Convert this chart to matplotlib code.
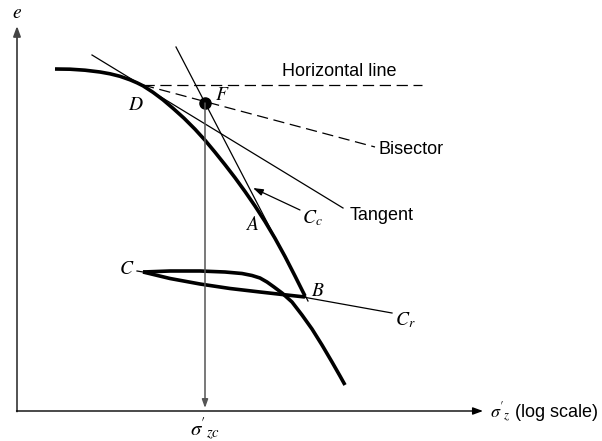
import matplotlib
matplotlib.use('Agg')
import matplotlib.pyplot as plt

plt.rcParams['font.family'] = ['Liberation Sans', 'DejaVu Sans']
plt.rcParams['mathtext.fontset'] = 'stix'

# 图上的点 (像素坐标, y 向下)
virgin_x = [55, 70, 85, 100, 110, 120, 130, 137, 143, 153, 163, 173, 184, 195, 205,
            215, 225, 235, 245, 255, 265, 275, 285, 295, 303, 305]
virgin_y = [69, 69.2, 70.2, 72, 73.8, 76.3, 79.8, 82.8, 85.8, 92.3, 99.8, 108.3, 118.2, 129.2, 140.2,
            152.2, 164.7, 177.7, 191.5, 206, 221.5, 238.3, 256.5, 276, 292, 296]
# 再加载曲线
reload_x = [143, 170, 200, 225, 242, 252, 260, 267, 274, 282, 292, 302, 312, 322, 332, 340, 345]
reload_y = [272, 271, 271, 272, 273.5, 275.5, 278, 282, 287, 293, 302, 315, 329, 345, 362, 376, 385]
# 卸载曲线
unload_x = [143, 170, 200, 230, 260, 285, 305]
unload_y = [272, 278.5, 284, 288.5, 292, 294.8, 297]

tangent_x, tangent_y = [92, 343], [55, 208]
horiz_x, horiz_y = [143, 422], [85, 85]
bisector_x, bisector_y = [143, 375], [85, 147]
cc_x, cc_y = [176, 308], [47, 301]
cr_x, cr_y = [303, 392], [297, 313]
point_f = (205, 103)

fig = plt.figure(figsize=(6.02, 4.41), dpi=100)
ax = fig.add_axes([0, 0, 1, 1])
ax.set_xlim(0, 602)
ax.set_ylim(441, 0)
ax.axis('off')

# 坐标轴
ax.annotate('', xy=(17, 26), xytext=(17, 411.5),
            arrowprops=dict(arrowstyle='-|>,head_length=0.6,head_width=0.22',
                            color='#444444', lw=1.3, shrinkA=0, shrinkB=0))
ax.annotate('', xy=(483, 411), xytext=(16.5, 411),
            arrowprops=dict(arrowstyle='-|>,head_length=0.6,head_width=0.22',
                            color='black', lw=1.0, shrinkA=0, shrinkB=0))

# 曲线
ax.plot(virgin_x, virgin_y, color='black', lw=2.6, solid_capstyle='butt', solid_joinstyle='round')
ax.plot(reload_x, reload_y, color='black', lw=2.6, solid_capstyle='butt', solid_joinstyle='round')
ax.plot(unload_x, unload_y, color='black', lw=2.6, solid_capstyle='butt', solid_joinstyle='round')

# 细线
ax.plot(tangent_x, tangent_y, color='black', lw=0.9)
ax.plot(cc_x, cc_y, color='black', lw=0.9)
ax.plot(cr_x, cr_y, color='black', lw=0.9)
ax.plot([137, 143], [271, 272], color='black', lw=0.9)
ax.plot(horiz_x, horiz_y, color='black', lw=0.9, dashes=(9, 4.5))
ax.plot(bisector_x, bisector_y, color='black', lw=0.9, dashes=(9, 4.5))

# 竖线 -> sigma'_zc
ax.annotate('', xy=(205, 408), xytext=point_f,
            arrowprops=dict(arrowstyle='-|>,head_length=0.5,head_width=0.18',
                            color='#555555', lw=1.1, shrinkA=0, shrinkB=0))
ax.plot(*point_f, 'o', color='black', markersize=8)

# Cc 箭头
ax.annotate('', xy=(253, 188), xytext=(300, 210),
            arrowprops=dict(arrowstyle='-|>,head_length=0.6,head_width=0.2',
                            color='black', lw=0.9, shrinkA=0, shrinkB=0))

# 文字
ital = dict(fontsize=14, ha='center', va='center')
ax.text(17, 13, '$e$', **ital)
ax.text(136, 106, '$D$', **ital)
ax.text(222, 96, '$F$', **ital)
ax.text(252, 225, '$A$', **ital)
ax.text(318, 292, '$B$', **ital)
ax.text(127, 270, '$C$', **ital)
ax.text(312, 218, '$C_c$', **ital)
ax.text(405, 320, '$C_r$', **ital)
ax.text(205, 429, "$\\sigma\\mathrm{'}_{zc}$", fontsize=15, ha='center', va='center')

sans = dict(fontsize=13, va='center', ha='left')
ax.text(282, 72, 'Horizontal line', **sans)
ax.text(378, 150, 'Bisector', **sans)
ax.text(350, 216, 'Tangent', **sans)
ax.text(490, 413, "$\\sigma\\mathrm{'}_{z}$ (log scale)", **sans)

plt.savefig('out.png', dpi=100)
